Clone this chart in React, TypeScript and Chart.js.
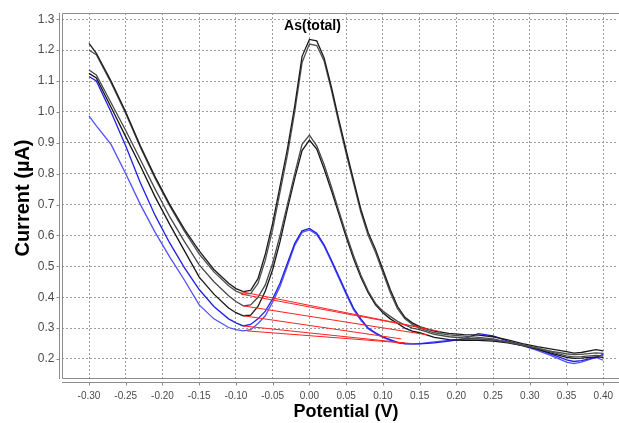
import React, { useEffect, useRef } from 'react';
import { Chart, registerables } from 'chart.js';

Chart.register(...registerables);

// Potential (V) sample points shared by all voltammograms
const potentials = [
  -0.30, -0.29, -0.27, -0.25, -0.23, -0.21, -0.19, -0.17, -0.15, -0.13, -0.11,
  -0.10, -0.09, -0.08, -0.07, -0.06, -0.05, -0.04, -0.03, -0.02, -0.01,
  0.00, 0.01, 0.02, 0.03, 0.04, 0.05, 0.06, 0.07, 0.08, 0.09, 0.10,
  0.11, 0.12, 0.13, 0.14, 0.15, 0.17, 0.19, 0.21, 0.23, 0.25, 0.27,
  0.29, 0.31, 0.33, 0.35, 0.36, 0.37, 0.39, 0.40,
];

// Current (µA) for each scan
const scanA1 = [
  1.222, 1.19, 1.10, 1.00, 0.89, 0.79, 0.70, 0.62, 0.55, 0.49, 0.445,
  0.428, 0.418, 0.422, 0.46, 0.54, 0.64, 0.76, 0.88, 1.02, 1.18,
  1.235, 1.23, 1.175, 1.08, 0.975, 0.876, 0.78, 0.685, 0.61, 0.555, 0.49,
  0.425, 0.37, 0.335, 0.317, 0.305, 0.29, 0.283, 0.279, 0.277, 0.272, 0.262,
  0.25, 0.24, 0.232, 0.224, 0.219, 0.221, 0.23, 0.226,
];
const scanA2 = [
  1.20, 1.185, 1.095, 0.995, 0.885, 0.785, 0.695, 0.613, 0.54, 0.482, 0.437,
  0.42, 0.41, 0.412, 0.445, 0.52, 0.62, 0.74, 0.86, 1.0, 1.16,
  1.22, 1.215, 1.165, 1.07, 0.965, 0.865, 0.77, 0.675, 0.60, 0.545, 0.48,
  0.415, 0.362, 0.33, 0.312, 0.30, 0.285, 0.278, 0.274, 0.27, 0.265, 0.255,
  0.245, 0.235, 0.225, 0.217, 0.214, 0.215, 0.22, 0.218,
];
const scanB1 = [
  1.136, 1.12, 1.03, 0.94, 0.845, 0.75, 0.66, 0.58, 0.505, 0.45, 0.405,
  0.386, 0.372, 0.375, 0.40, 0.44, 0.51, 0.60, 0.70, 0.80, 0.895,
  0.925, 0.89, 0.83, 0.757, 0.68, 0.605, 0.535, 0.472, 0.42, 0.38, 0.355,
  0.338, 0.322, 0.31, 0.30, 0.295, 0.28, 0.272, 0.268, 0.265, 0.262, 0.255,
  0.245, 0.235, 0.222, 0.21, 0.207, 0.208, 0.212, 0.21,
];
const scanB2 = [
  1.125, 1.11, 1.015, 0.92, 0.825, 0.725, 0.635, 0.55, 0.465, 0.41, 0.365,
  0.35, 0.34, 0.342, 0.37, 0.42, 0.49, 0.58, 0.685, 0.785, 0.875,
  0.909, 0.88, 0.815, 0.745, 0.67, 0.595, 0.525, 0.465, 0.415, 0.375, 0.35,
  0.33, 0.315, 0.30, 0.29, 0.285, 0.27, 0.263, 0.26, 0.26, 0.258, 0.252,
  0.243, 0.232, 0.218, 0.205, 0.202, 0.203, 0.207, 0.205,
];
const scanC1 = [
  1.115, 1.10, 1.0, 0.89, 0.77, 0.665, 0.575, 0.495, 0.425, 0.37, 0.33,
  0.317, 0.307, 0.312, 0.33, 0.355, 0.395, 0.445, 0.51, 0.575, 0.615,
  0.623, 0.607, 0.57, 0.52, 0.468, 0.415, 0.365, 0.33, 0.30, 0.285, 0.272,
  0.263, 0.254, 0.25, 0.249, 0.249, 0.252, 0.258, 0.265, 0.282, 0.275, 0.258,
  0.245, 0.232, 0.215, 0.197, 0.192, 0.195, 0.205, 0.215,
];
const scanC2 = [
  0.987, 0.955, 0.895, 0.80, 0.70, 0.61, 0.53, 0.455, 0.375, 0.33, 0.302,
  0.295, 0.291, 0.295, 0.315, 0.34, 0.385, 0.435, 0.50, 0.568, 0.61,
  0.618, 0.603, 0.565, 0.515, 0.462, 0.41, 0.36, 0.325, 0.298, 0.282, 0.27,
  0.26, 0.252, 0.249, 0.249, 0.25, 0.255, 0.26, 0.263, 0.265, 0.262, 0.255,
  0.243, 0.228, 0.21, 0.19, 0.185, 0.19, 0.205, 0.196,
];

// Red peak baselines (start / end points)
const baseStartX = [-0.093, -0.093, -0.09, -0.09, -0.09, -0.085];
const baseStartY = [0.418, 0.41, 0.372, 0.34, 0.307, 0.291];
const baseEndX = [0.18, 0.157, 0.161, 0.125, 0.13, 0.145];
const baseEndY = [0.288, 0.299, 0.278, 0.265, 0.252, 0.249];

const xTicks = [-0.30, -0.25, -0.20, -0.15, -0.10, -0.05, 0.00, 0.05, 0.10, 0.15, 0.20, 0.25, 0.30, 0.35, 0.40];
const xTickLabels = ['-0.30', '-0.25', '-0.20', '-0.15', '-0.10', '-0.05', '0.00', '0.05', '0.10', '0.15', '0.20', '0.25', '0.30', '0.35', '0.40'];
const yTicks = [0.2, 0.3, 0.4, 0.5, 0.6, 0.7, 0.8, 0.9, 1.0, 1.1, 1.2, 1.3];
const yTickLabels = ['0.2', '0.3', '0.4', '0.5', '0.6', '0.7', '0.8', '0.9', '1.0', '1.1', '1.2', '1.3'];

const peakLabel = 'As(total)';
const xTitle = 'Potential (V)';
const yTitle = 'Current (µA)';

export default function App() {
  const ref = useRef<HTMLCanvasElement>(null);

  useEffect(() => {
    document.body.style.margin = '0';
    const canvas = ref.current!;
    const toXY = (ys: number[]) => potentials.map((x, i) => ({ x, y: ys[i] }));

    const curves = [
      { data: toXY(scanA1), color: '#1c1c1c' },
      { data: toXY(scanA2), color: '#505050' },
      { data: toXY(scanB1), color: '#484848' },
      { data: toXY(scanB2), color: '#151515' },
      { data: toXY(scanC1), color: '#1f1fe6' },
      { data: toXY(scanC2), color: '#5050ff' },
    ];

    const datasets: any[] = [];
    baseStartX.forEach((sx, i) => {
      datasets.push({
        data: [
          { x: sx, y: baseStartY[i] },
          { x: baseEndX[i], y: baseEndY[i] },
        ],
        borderColor: '#ff2020',
        borderWidth: 1,
        pointRadius: 0,
        tension: 0,
        order: 0,
      });
    });
    curves.forEach((c) => {
      datasets.push({
        data: c.data,
        borderColor: c.color,
        borderWidth: 1.3,
        pointRadius: 0,
        tension: 0,
        order: 1,
      });
    });

    const overlay = {
      id: 'overlay',
      beforeDraw(chart: any) {
        const ctx = chart.ctx;
        ctx.save();
        ctx.fillStyle = '#ffffff';
        ctx.fillRect(0, 0, chart.width, chart.height);
        ctx.restore();
      },
      afterDraw(chart: any) {
        const ctx = chart.ctx;
        const a = chart.chartArea;
        const xs = chart.scales.x;
        const ys = chart.scales.y;
        ctx.save();
        // keep the cut-off right side of the plot free of any frame line
        ctx.fillStyle = '#ffffff';
        ctx.fillRect(a.right - 2, 0, 10, chart.height);
        // plot outline
        ctx.strokeStyle = '#8c8c8c';
        ctx.lineWidth = 1;
        ctx.beginPath();
        ctx.moveTo(a.right, a.top + 0.5);
        ctx.lineTo(a.left + 0.5, a.top + 0.5);
        ctx.lineTo(a.left + 0.5, a.bottom - 0.5);
        ctx.lineTo(a.right, a.bottom - 0.5);
        ctx.stroke();
        // axis lines (offset)
        const yAxisX = a.left - 2.5;
        const xAxisY = a.bottom + 3.5;
        ctx.beginPath();
        ctx.moveTo(yAxisX, a.top);
        ctx.lineTo(yAxisX, a.bottom);
        ctx.moveTo(a.left, xAxisY);
        ctx.lineTo(a.right, xAxisY);
        // tick marks
        yTicks.forEach((v) => {
          const py = Math.round(ys.getPixelForValue(v)) + 0.5;
          ctx.moveTo(yAxisX - 3, py);
          ctx.lineTo(yAxisX, py);
        });
        xTicks.forEach((v) => {
          const px = Math.round(xs.getPixelForValue(v)) + 0.5;
          ctx.moveTo(px, xAxisY);
          ctx.lineTo(px, xAxisY + 3);
        });
        ctx.stroke();

        // tick labels
        ctx.fillStyle = '#4a4a4a';
        ctx.font = '12px "Liberation Sans", Arial, sans-serif';
        ctx.textAlign = 'right';
        ctx.textBaseline = 'middle';
        yTicks.forEach((v, i) => {
          ctx.fillText(yTickLabels[i], yAxisX - 5, ys.getPixelForValue(v));
        });
        ctx.font = '10px "Liberation Sans", Arial, sans-serif';
        ctx.textAlign = 'center';
        ctx.textBaseline = 'middle';
        xTicks.forEach((v, i) => {
          ctx.fillText(xTickLabels[i], xs.getPixelForValue(v), 396);
        });

        // titles
        ctx.fillStyle = '#000000';
        ctx.font = 'bold 18px "Liberation Sans", Arial, sans-serif';
        ctx.textAlign = 'center';
        ctx.textBaseline = 'middle';
        ctx.fillText(xTitle, 346, 412);
        ctx.save();
        ctx.font = 'bold 20px "Liberation Sans", Arial, sans-serif';
        ctx.translate(23, 198);
        ctx.rotate(-Math.PI / 2);
        ctx.fillText(yTitle, 0, 0);
        ctx.restore();

        // peak annotation
        ctx.font = 'bold 14px "Liberation Sans", Arial, sans-serif';
        ctx.fillText(peakLabel, 312.5, 26.5);
        ctx.restore();
      },
    };

    const chart = new Chart(canvas, {
      type: 'line',
      data: { datasets },
      options: {
        animation: false,
        responsive: false,
        devicePixelRatio: 1,
        layout: { padding: { left: 62, top: 13, right: 0, bottom: 44 } },
        plugins: {
          legend: { display: false },
          tooltip: { enabled: false },
        },
        scales: {
          x: {
            type: 'linear',
            min: -0.33675,
            max: 0.42137,
            afterBuildTicks: (s: any) => {
              s.ticks = xTicks.map((v) => ({ value: v }));
            },
            afterFit: (s: any) => {
              s.height = 0;
            },
            ticks: { display: false },
            grid: { color: '#9c9c9c', lineWidth: 1, drawTicks: false },
            border: { display: false, dash: [2, 2] },
          },
          y: {
            type: 'linear',
            min: 0.13523,
            max: 1.3204,
            afterBuildTicks: (s: any) => {
              s.ticks = yTicks.map((v) => ({ value: v }));
            },
            afterFit: (s: any) => {
              s.width = 0;
            },
            ticks: { display: false },
            grid: { color: '#9c9c9c', lineWidth: 1, drawTicks: false },
            border: { display: false, dash: [2, 2] },
          },
        },
      },
      plugins: [overlay],
    } as any);

    return () => chart.destroy();
  }, []);

  return (
    <div style={{ position: 'absolute', left: 0, top: 0, width: 619, height: 423 }}>
      <canvas ref={ref} width={619} height={423} style={{ display: 'block' }} />
    </div>
  );
}
